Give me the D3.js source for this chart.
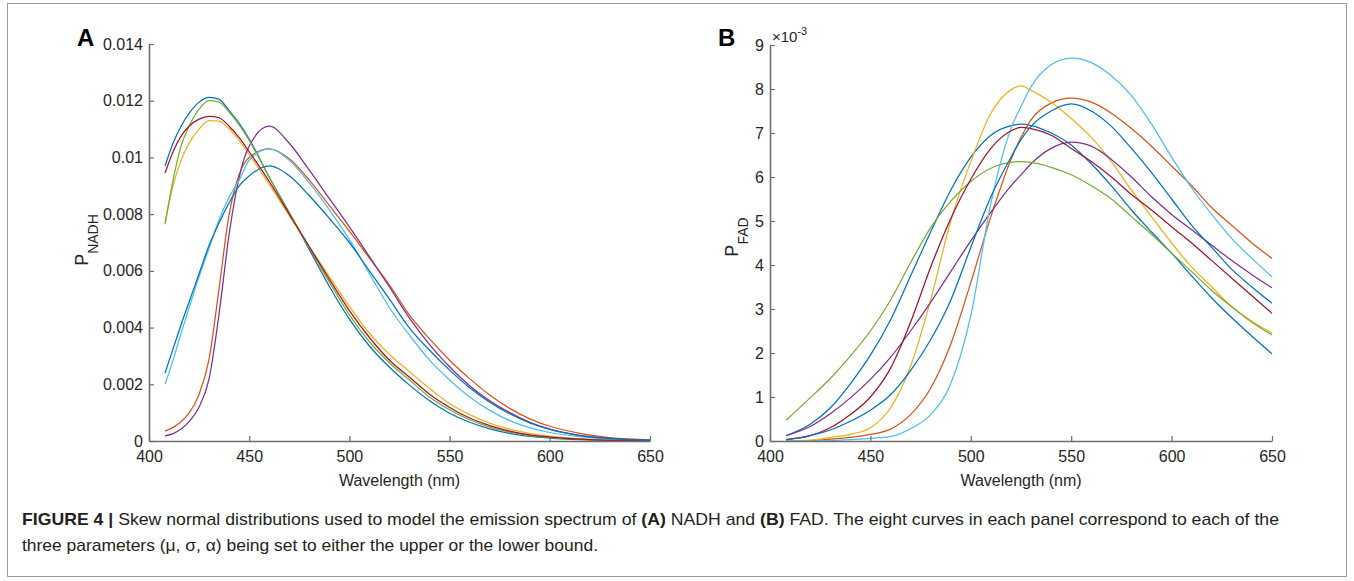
<!DOCTYPE html>
<html>
<head>
<meta charset="utf-8">
<script src="https://cdn.jsdelivr.net/npm/d3@7"></script>
<style>
  body { margin: 0; background: #fff; }
  svg text { font-family: "Liberation Sans", Arial, Helvetica, sans-serif; }
</style>
</head>
<body>
<div id="chart"></div>
<script>
const wlA = [408, 412, 416, 420, 425, 430, 435, 440, 445, 450, 460, 470, 480, 490, 500, 510, 520, 530, 540, 550, 560, 570, 580, 590, 600, 615, 630, 650];
const wlB = [408, 420, 430, 440, 450, 460, 470, 480, 490, 500, 510, 520, 525, 530, 540, 550, 560, 570, 580, 590, 600, 610, 620, 630, 640, 650];

// panel A, P_NADH, values in units of 1e-3
const nadhBlue1  = [9.7, 10.5, 11.1, 11.55, 11.95, 12.12, 12.05, 11.65, 11.2, 10.65, 9.3, 8.05, 6.75, 5.45, 4.3, 3.35, 2.6, 1.97, 1.42, 0.98, 0.66, 0.43, 0.27, 0.16, 0.1, 0.045, 0.015, 0.005];
const nadhOrange = [0.35, 0.48, 0.68, 0.98, 1.65, 2.9, 5.4, 8.0, 9.4, 10.0, 10.3, 9.95, 9.2, 8.3, 7.4, 6.45, 5.5, 4.44, 3.6, 2.85, 2.2, 1.62, 1.15, 0.78, 0.52, 0.27, 0.12, 0.04];
const nadhYellow = [7.7, 9.0, 9.9, 10.5, 11.0, 11.3, 11.28, 11.0, 10.6, 10.1, 9.05, 7.95, 6.85, 5.8, 4.75, 3.8, 3.05, 2.45, 1.85, 1.32, 0.93, 0.63, 0.42, 0.27, 0.17, 0.08, 0.03, 0.01];
const nadhPurple = [0.18, 0.26, 0.42, 0.68, 1.2, 2.2, 4.5, 7.3, 9.3, 10.4, 11.1, 10.5, 9.55, 8.55, 7.55, 6.5, 5.43, 4.33, 3.4, 2.62, 1.95, 1.42, 1.0, 0.66, 0.42, 0.2, 0.09, 0.03];
const nadhGreen  = [7.64, 9.2, 10.4, 11.1, 11.7, 12.0, 11.95, 11.6, 11.15, 10.6, 9.3, 8.05, 6.8, 5.6, 4.45, 3.5, 2.75, 2.15, 1.55, 1.1, 0.75, 0.49, 0.31, 0.19, 0.12, 0.055, 0.02, 0.005];
const nadhLBlue  = [2.0, 2.85, 3.8, 4.7, 5.8, 6.8, 7.8, 8.6, 9.2, 9.9, 10.3, 9.9, 9.1, 8.15, 7.1, 5.9, 4.7, 3.73, 2.85, 2.15, 1.55, 1.08, 0.72, 0.47, 0.3, 0.15, 0.06, 0.02];
const nadhRed    = [9.45, 10.2, 10.75, 11.1, 11.35, 11.45, 11.4, 11.1, 10.7, 10.2, 9.15, 8.0, 6.85, 5.7, 4.6, 3.65, 2.85, 2.25, 1.65, 1.18, 0.81, 0.54, 0.35, 0.22, 0.14, 0.065, 0.025, 0.01];
const nadhBlue8  = [2.4, 3.25, 4.1, 4.9, 5.9, 6.9, 7.7, 8.4, 9.0, 9.35, 9.7, 9.35, 8.65, 7.85, 7.0, 6.0, 5.0, 3.98, 3.2, 2.5, 1.88, 1.37, 0.96, 0.64, 0.41, 0.19, 0.08, 0.02];

// panel B, P_FAD, values in units of 1e-3
const fadBlue1  = [0.12, 0.38, 0.75, 1.3, 1.95, 2.75, 3.75, 4.75, 5.7, 6.45, 6.95, 7.17, 7.2, 7.17, 7.0, 6.73, 6.3, 5.8, 5.25, 4.75, 4.27, 3.75, 3.25, 2.8, 2.38, 1.98];
const fadOrange = [0, 0.01, 0.04, 0.08, 0.15, 0.27, 0.6, 1.2, 2.2, 3.6, 5.1, 6.4, 6.9, 7.3, 7.68, 7.79, 7.7, 7.45, 7.1, 6.7, 6.25, 5.8, 5.3, 4.9, 4.5, 4.15];
const fadYellow = [0, 0.02, 0.08, 0.15, 0.3, 0.75, 1.7, 3.2, 5.0, 6.35, 7.45, 7.98, 8.07, 7.97, 7.7, 7.33, 6.9, 6.35, 5.7, 5.1, 4.5, 3.95, 3.5, 3.05, 2.72, 2.45];
const fadPurple = [0.12, 0.33, 0.62, 0.98, 1.4, 1.9, 2.5, 3.15, 3.85, 4.55, 5.2, 5.8, 6.05, 6.3, 6.65, 6.79, 6.7, 6.4, 6.0, 5.55, 5.15, 4.8, 4.45, 4.1, 3.78, 3.48];
const fadGreen  = [0.47, 0.98, 1.42, 1.93, 2.5, 3.2, 4.05, 4.85, 5.45, 5.9, 6.2, 6.33, 6.35, 6.33, 6.22, 6.05, 5.8, 5.5, 5.1, 4.7, 4.27, 3.85, 3.42, 3.05, 2.7, 2.41];
const fadLBlue  = [0, 0, 0.01, 0.03, 0.06, 0.1, 0.28, 0.6, 1.3, 2.85, 5.4, 7.1, 7.6, 8.05, 8.55, 8.7, 8.6, 8.3, 7.85, 7.2, 6.45, 5.75, 5.15, 4.6, 4.15, 3.73];
const fadRed    = [0.03, 0.12, 0.3, 0.6, 1.0, 1.65, 2.7, 3.95, 5.05, 5.95, 6.65, 7.05, 7.13, 7.1, 6.95, 6.65, 6.35, 6.0, 5.6, 5.25, 4.87, 4.5, 4.1, 3.7, 3.3, 2.9];
const fadBlue8  = [0.03, 0.12, 0.25, 0.45, 0.7, 1.05, 1.6, 2.3, 3.2, 4.4, 5.55, 6.45, 6.85, 7.15, 7.5, 7.66, 7.5, 7.15, 6.65, 6.1, 5.5, 4.9, 4.4, 3.9, 3.5, 3.13];

// default matlab line order
const lineColors = ["#0072BD", "#D95319", "#EDB120", "#7E2F8E", "#77AC30", "#4DBEEE", "#A2142F", "#0072BD"];

const xTicks = [400, 450, 500, 550, 600, 650];
const yTicksA = [0, 2, 4, 6, 8, 10, 12, 14];
const yTickLabelsA = ["0", "0.002", "0.004", "0.006", "0.008", "0.01", "0.012", "0.014"];
const yTicksB = [0, 1, 2, 3, 4, 5, 6, 7, 8, 9];

const captionLine1 = "Skew normal distributions used to model the emission spectrum of ";
const captionLine2 = "three parameters (\u03bc, \u03c3, \u03b1) being set to either the upper or the lower bound.";

const W = 1354, H = 581;
const svg = d3.select("#chart").append("svg")
  .attr("width", W).attr("height", H);

// frame round the whole figure
svg.append("rect")
  .attr("x", 7.5).attr("y", 3.5)
  .attr("width", 1339).attr("height", 573)
  .attr("fill", "none").attr("stroke", "#9a9a9a").attr("stroke-width", 1);

function drawPanel(p) {
  const x = d3.scaleLinear().domain([400, 650]).range([p.left, p.right]);
  const y = d3.scaleLinear().domain(p.yDomain).range([p.bottom, p.top]);

  const g = svg.append("g");

  // curves
  const line = d3.line()
    .x(d => x(d[0]))
    .y(d => y(d[1]))
    .curve(d3.curveMonotoneX);

  p.series.forEach((vals, i) => {
    g.append("path")
      .datum(p.wl.map((w, j) => [w, vals[j]]))
      .attr("d", line)
      .attr("fill", "none")
      .attr("stroke", lineColors[i])
      .attr("stroke-width", 1.25);
  });

  // axes, ticks pointing inwards like matlab
  const xa = g.append("g")
    .attr("transform", `translate(0,${p.bottom})`)
    .call(d3.axisBottom(x).tickValues(xTicks).tickSizeInner(-5).tickSizeOuter(0).tickPadding(10).tickFormat(d3.format("d")));
  const ya = g.append("g")
    .attr("transform", `translate(${p.left},0)`)
    .call(d3.axisLeft(y).tickValues(p.yTicks).tickSizeInner(-5).tickSizeOuter(0).tickPadding(6)
      .tickFormat((d, i) => p.yLabels ? p.yLabels[i] : d));

  [xa, ya].forEach(a => {
    a.select(".domain").attr("stroke", "#6e6e6e").attr("stroke-width", 1.6);
    a.selectAll(".tick line").attr("stroke", "#6e6e6e").attr("stroke-width", 1.2);
    a.selectAll(".tick text").attr("fill", "#262626").style("font-size", "16px");
  });

  g.append("text")
    .attr("x", (p.left + p.right) / 2).attr("y", 486)
    .attr("text-anchor", "middle")
    .attr("fill", "#262626")
    .style("font-size", "16px")
    .text("Wavelength (nm)");

  // y label with subscript
  const yl = g.append("text")
    .attr("transform", `translate(${p.labelX},${p.labelY}) rotate(-90)`)
    .attr("text-anchor", "middle")
    .attr("fill", "#262626");
  yl.append("tspan").style("font-size", "18px").text("P");
  yl.append("tspan").attr("dy", 10).style("font-size", "14px").text(p.sub);

  // panel letter
  g.append("text")
    .attr("x", p.letterX).attr("y", 46)
    .style("font-size", "24px").style("font-weight", "bold")
    .text(p.letter);

  return g;
}

drawPanel({
  letter: "A", letterX: 77,
  left: 149, right: 650, top: 44, bottom: 441,
  yDomain: [0, 14], yTicks: yTicksA, yLabels: yTickLabelsA,
  wl: wlA,
  series: [nadhBlue1, nadhOrange, nadhYellow, nadhPurple, nadhGreen, nadhLBlue, nadhRed, nadhBlue8],
  sub: "NADH", labelX: 88, labelY: 240
});

const gB = drawPanel({
  letter: "B", letterX: 718,
  left: 770, right: 1272, top: 45, bottom: 441,
  yDomain: [0, 9], yTicks: yTicksB, yLabels: null,
  wl: wlB,
  series: [fadBlue1, fadOrange, fadYellow, fadPurple, fadGreen, fadLBlue, fadRed, fadBlue8],
  sub: "FAD", labelX: 738, labelY: 237
});

// exponent note on top of panel B axis
const ex = gB.append("text").attr("x", 772).attr("y", 42).attr("fill", "#262626");
ex.append("tspan").style("font-size", "15px").text("\u00d710");
ex.append("tspan").attr("dy", -7).style("font-size", "11px").text("-3");

// caption
const cap1 = svg.append("text").attr("x", 22).attr("y", 525)
  .attr("textLength", 1257).attr("lengthAdjust", "spacingAndGlyphs")
  .attr("fill", "#231f20").style("font-size", "17px");
cap1.append("tspan").style("font-weight", "bold").text("FIGURE 4 | ");
cap1.append("tspan").text(captionLine1);
cap1.append("tspan").style("font-weight", "bold").text("(A)");
cap1.append("tspan").text(" NADH and ");
cap1.append("tspan").style("font-weight", "bold").text("(B)");
cap1.append("tspan").text(" FAD. The eight curves in each panel correspond to each of the");

svg.append("text").attr("x", 22).attr("y", 551)
  .attr("textLength", 576).attr("lengthAdjust", "spacingAndGlyphs")
  .attr("fill", "#231f20").style("font-size", "17px")
  .text(captionLine2);
</script>
</body>
</html>
